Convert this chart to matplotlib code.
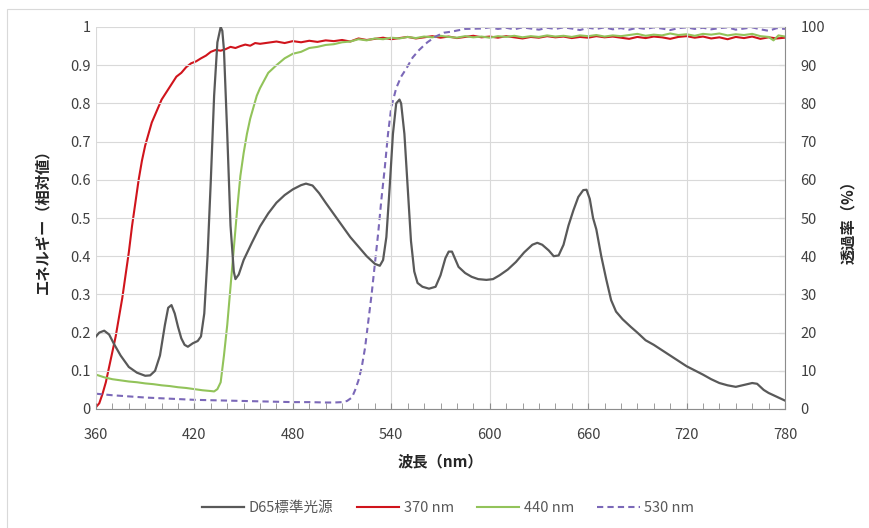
import matplotlib
matplotlib.use("Agg")
import matplotlib.pyplot as plt
from matplotlib.patches import Rectangle

plt.rcParams['font.family'] = ['Noto Sans CJK JP', 'DejaVu Sans']

# D65 standard illuminant (relative energy)
d65_wl = [360, 362, 365, 368, 371, 375, 380, 385, 390, 393, 396, 399, 402, 404, 406, 408, 410, 412, 414, 416,
          419, 422, 424, 426, 428, 430, 432, 434, 436, 437, 438, 440, 442, 444, 445, 447, 450, 455, 460, 465,
          470, 475, 480, 485, 488, 492, 496, 500, 505, 510, 515, 520, 525, 530, 533, 535, 537, 539, 541, 543,
          545, 546, 548, 550, 552, 554, 556, 559, 563, 567, 570, 573, 575, 577, 579, 581, 585, 589, 593, 598,
          602, 606, 611, 616, 621, 626, 629, 632, 636, 639, 642, 645, 648, 651, 654, 657, 659, 661, 663, 665,
          668, 671, 674, 677, 681, 686, 690, 695, 700, 710, 720, 730, 735, 740, 745, 750, 755, 760, 763, 767,
          770, 775, 780]
d65_val = [0.190, 0.200, 0.205, 0.195, 0.170, 0.140, 0.110, 0.095, 0.087, 0.088, 0.100, 0.140, 0.220, 0.265, 0.272, 0.250, 0.215, 0.185, 0.168, 0.163,
           0.172, 0.178, 0.190, 0.250, 0.400, 0.600, 0.820, 0.960, 1.000, 0.990, 0.940, 0.720, 0.480, 0.360, 0.340, 0.352, 0.390, 0.435, 0.478, 0.512,
           0.540, 0.560, 0.575, 0.586, 0.590, 0.585, 0.565, 0.540, 0.510, 0.480, 0.450, 0.425, 0.400, 0.380, 0.375, 0.390, 0.450, 0.580, 0.720, 0.800,
           0.810, 0.800, 0.720, 0.580, 0.440, 0.360, 0.330, 0.320, 0.315, 0.320, 0.350, 0.395, 0.412, 0.412, 0.392, 0.372, 0.356, 0.346, 0.340, 0.338,
           0.340, 0.350, 0.365, 0.385, 0.410, 0.430, 0.435, 0.430, 0.415, 0.400, 0.402, 0.430, 0.480, 0.520, 0.555, 0.573, 0.574, 0.550, 0.500, 0.470,
           0.400, 0.340, 0.285, 0.255, 0.235, 0.215, 0.200, 0.180, 0.168, 0.140, 0.112, 0.090, 0.078, 0.068, 0.062, 0.058, 0.063, 0.068, 0.066, 0.050,
           0.042, 0.032, 0.022]

# transmittance (%) of the 370 nm filter
t370_wl = [360, 362, 364, 366, 368, 370, 372, 374, 376, 378, 380, 382, 384, 386, 388, 390, 392, 394, 396, 398,
           400, 403, 406, 409, 412, 415, 418, 421, 424, 427, 430, 433, 436, 439, 442, 445, 448, 451, 454, 457,
           460, 465, 470, 475, 480, 485, 490, 495, 500, 505, 510, 515, 520, 525, 530, 535, 540, 545, 550, 555,
           560, 565, 570, 575, 580, 585, 590, 595, 600, 605, 610, 615, 620, 625, 630, 635, 640, 645, 650, 655,
           660, 665, 670, 675, 680, 685, 690, 695, 700, 705, 710, 715, 720, 725, 730, 735, 740, 745, 750, 755,
           760, 765, 770, 775, 780]
t370_val = [0.5, 1.5, 4, 7, 11, 15, 19, 24, 29, 35, 41, 48, 54, 60, 65, 69, 72, 75, 77, 79,
            81, 83, 85, 87, 88, 89.5, 90.5, 91, 91.8, 92.5, 93.5, 94.0, 93.8, 94.2, 94.8, 94.5, 95.0, 95.4, 95.1, 95.8,
            95.6, 95.9, 96.2, 95.8, 96.3, 96.0, 96.4, 96.1, 96.5, 96.3, 96.6, 96.2, 97.0, 96.6, 96.9, 97.2, 96.8, 97.1, 97.4, 97.0,
            97.3, 97.6, 97.2, 97.5, 97.1, 97.4, 97.7, 97.3, 97.5, 97.2, 97.6, 97.3, 97.0, 97.4, 97.2, 97.6, 97.3, 97.5, 97.1, 97.4,
            97.2, 97.6, 97.3, 97.5, 97.2, 96.9, 97.4, 97.1, 97.5, 97.3, 96.9, 97.4, 97.6, 97.2, 97.5, 97.0, 97.3, 96.8, 97.4, 97.1,
            97.5, 96.9, 97.3, 97.0, 97.2]

# transmittance (%) of the 440 nm filter
t440_wl = [360, 365, 370, 375, 380, 385, 390, 395, 400, 405, 410, 415, 420, 425, 430, 432, 434, 436, 438, 440,
           442, 444, 446, 448, 450, 452, 454, 456, 458, 460, 465, 470, 475, 480, 485, 490, 495, 500, 505, 510,
           515, 520, 525, 530, 535, 540, 545, 550, 555, 560, 565, 570, 575, 580, 585, 590, 595, 600, 605, 610,
           615, 620, 625, 630, 635, 640, 645, 650, 655, 660, 665, 670, 675, 680, 685, 690, 695, 700, 705, 710,
           715, 720, 725, 730, 735, 740, 745, 750, 755, 760, 765, 770, 773, 776, 780]
t440_val = [9.0, 8.3, 7.8, 7.5, 7.2, 7.0, 6.7, 6.5, 6.2, 6.0, 5.7, 5.5, 5.2, 4.9, 4.7, 4.6, 5.2, 7, 14, 22,
            32, 42, 52, 61, 67, 72, 76, 79, 82, 84, 88, 90, 91.8, 93, 93.5, 94.5, 94.8, 95.3, 95.5, 96.0,
            96.2, 96.8, 96.5, 97.0, 96.8, 97.2, 97.0, 97.4, 97.1, 97.5, 97.3, 97.7, 97.4, 97.2, 97.6, 97.3, 97.5, 97.2, 97.6, 97.4,
            97.7, 97.3, 97.6, 97.4, 97.8, 97.5, 97.7, 97.4, 97.8, 97.6, 97.9, 97.5, 97.8, 97.6, 97.9, 98.2, 97.7, 98.0, 97.8, 98.3,
            97.9, 98.1, 97.7, 98.2, 98.0, 98.3, 97.8, 98.1, 97.9, 98.2, 97.6, 97.4, 96.5, 97.8, 97.5]

# transmittance (%) of the 530 nm filter
t530_wl = [360, 370, 380, 390, 400, 410, 420, 430, 440, 450, 460, 470, 480, 490, 500, 505, 510, 513, 516, 518,
           520, 522, 524, 526, 528, 530, 532, 534, 536, 538, 540, 543, 546, 549, 553, 557, 562, 567, 572, 577,
           585, 595, 600, 605, 610, 615, 620, 625, 630, 635, 640, 645, 650, 655, 660, 665, 670, 675, 680, 685,
           690, 695, 700, 705, 710, 715, 720, 725, 730, 735, 740, 745, 750, 755, 760, 765, 770, 775, 780]
t530_val = [4.0, 3.6, 3.3, 3.0, 2.8, 2.6, 2.4, 2.3, 2.2, 2.1, 2.0, 1.9, 1.8, 1.8, 1.7, 1.7, 1.8, 2.1, 3.0, 5.0,
            7.5, 11, 16, 23, 30, 38, 46, 55, 63, 72, 79, 84, 87, 89, 92, 94, 96, 97.5, 98.5, 98.8,
            99.5, 99.6, 99.9, 99.5, 99.8, 99.4, 99.9, 99.6, 99.3, 99.8, 99.5, 99.9, 99.6, 99.2, 99.8, 99.5, 99.9, 99.4, 99.7, 99.3,
            99.8, 99.5, 99.9, 99.6, 99.2, 99.7, 99.9, 99.5, 99.8, 99.4, 99.7, 99.9, 99.3, 99.6, 99.9, 99.4, 99.0, 99.7, 99.5]

labels = ['D65標準光源', '370 nm', '440 nm', '530 nm']
txt = '#404040'

fig = plt.figure(figsize=(8.7, 5.28), dpi=100)
fig.patches.append(Rectangle((7 / 870, -0.1), 1.2, 1.1 - 9 / 528, transform=fig.transFigure,
                             fill=False, edgecolor='#d9d9d9', linewidth=0.8))
ax = fig.add_axes([96 / 870, 1 - 409 / 528, 689 / 870, 382 / 528])
ax2 = ax.twinx()

l1, = ax.plot(d65_wl, d65_val, color='#595959', lw=1.6, label=labels[0])
l2, = ax2.plot(t370_wl, t370_val, color='#d0141c', lw=1.5, label=labels[1])
l3, = ax2.plot(t440_wl, t440_val, color='#92c35a', lw=1.5, label=labels[2])
l4, = ax2.plot(t530_wl, t530_val, color='#7b68b8', lw=1.5, ls=(0, (3, 2)), label=labels[3])
ax.set_zorder(ax2.get_zorder() + 1)
ax.patch.set_visible(False)

ax.set_xlim(360, 780)
ax.set_ylim(0, 1)
ax2.set_ylim(0, 100)
ax.set_xticks(range(360, 781, 60))
ax.set_xticks(range(360, 781, 10), minor=True)
ax.set_yticks([i / 10 for i in range(11)])
ax.set_yticklabels(['0'] + [f'{i / 10:.1f}' for i in range(1, 10)] + ['1'])
ax2.set_yticks(range(0, 101, 10))
ax.grid(True, color='#d9d9d9', lw=0.8)
ax.set_axisbelow(True)

for a in (ax, ax2):
    for s in a.spines.values():
        s.set_visible(False)
ax.spines['bottom'].set_visible(True)
ax.spines['bottom'].set_color('#8c8c8c')
ax2.spines['right'].set_visible(True)
ax2.spines['right'].set_color('#8c8c8c')

ax.tick_params(axis='x', which='both', direction='in', length=4, color='#8c8c8c', pad=14,
               labelsize=10.5, labelcolor=txt)
ax.tick_params(axis='y', length=0, pad=4, labelsize=10.5, labelcolor=txt)
ax2.tick_params(axis='y', direction='in', length=4, color='#8c8c8c', pad=11, labelsize=10.5, labelcolor=txt)

ax.set_xlabel('波長（nm）', fontsize=11, fontweight='bold', color='#262626', labelpad=8)
fig.text(42 / 870, 0.587, 'エネルギー（相対値）', rotation=90, ha='center', va='center',
         fontsize=11, fontweight='bold', color='#262626')
fig.text(848 / 870, 0.587, '透過率（%）', rotation=90, ha='center', va='center',
         fontsize=11, fontweight='bold', color='#262626')

fig.legend(handles=[l1, l2, l3, l4], loc='center', bbox_to_anchor=(0.515, 0.038), ncol=4,
           frameon=False, fontsize=10.5, handlelength=2.9, handletextpad=0.3, columnspacing=1.6,
           labelcolor='#595959')

fig.savefig('out.png', dpi=100)
